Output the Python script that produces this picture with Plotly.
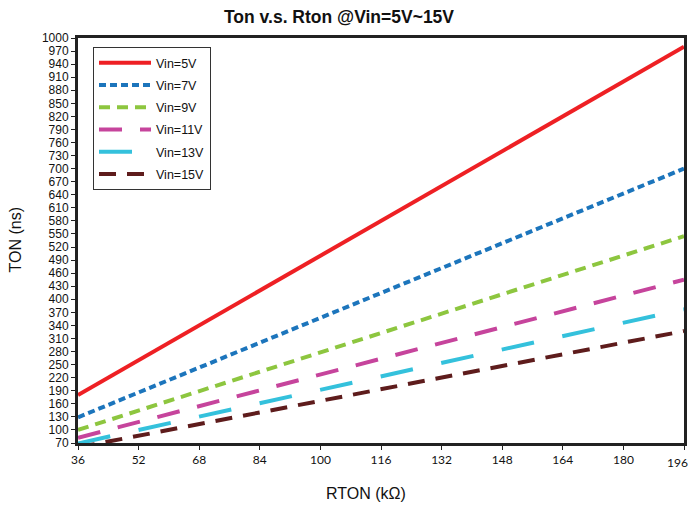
import plotly.graph_objects as go

rton = [36, 196]
series_names = ["Vin=5V", "Vin=7V", "Vin=9V", "Vin=11V", "Vin=13V", "Vin=15V"]
ton_5v = [180, 980]
ton_7v = [129, 700]
ton_9v = [100, 545]
ton_11v = [82, 445]
ton_13v = [69, 377]
ton_15v = [60, 327]
x_ticks = [36, 52, 68, 84, 100, 116, 132, 148, 164, 180, 196]
y_ticks = list(range(70, 1001, 30))

series = [ton_5v, ton_7v, ton_9v, ton_11v, ton_13v, ton_15v]
colors = ["#ee2024", "#1c75bc", "#8dc63f", "#c6449c", "#34c1dc", "#5e1c1c"]
dashes = ["solid", "7px,4px", "11px,7px", "23px,18px", "33px,29px", "17px,11px"]

fig = go.Figure()
for name, ys, c, d in zip(series_names, series, colors, dashes):
    fig.add_trace(go.Scatter(x=rton, y=ys, mode="lines", name=name, legendgroup=name,
                             line=dict(color=c, width=4, dash=d)))

fig.update_layout(
    width=689, height=506,
    margin=dict(l=78, r=5, t=38, b=63, autoexpand=False),
    paper_bgcolor="white", plot_bgcolor="white",
    title=dict(text="<b>Ton v.s. Rton @Vin=5V~15V</b>", x=339/689, xanchor="center",
               xref="container", y=1 - 17/506, yref="container", yanchor="middle",
               font=dict(family="Liberation Sans, Arial", size=17.5, color="#111")),
    showlegend=True,
    legend=dict(x=(93 - 78) / 606, y=1 - (47 - 38) / 405, xanchor="left", yanchor="top",
                bordercolor="#333", borderwidth=1, bgcolor="white",
                font=dict(family="Liberation Sans, Arial", size=12.5, color="#111"),
                itemwidth=52, tracegroupgap=3),
    annotations=[
        dict(text="TON (ns)", x=(15 - 78) / 606, xref="paper", y=0.5, yref="paper",
             textangle=-90, showarrow=False, xanchor="center", yanchor="middle",
             font=dict(family="Liberation Sans, Arial", size=16, color="#111")),
        dict(text="RTON (kΩ)", x=(366 - 78) / 606, xref="paper", y=(443 - 493) / 405,
             yref="paper", showarrow=False, xanchor="center", yanchor="middle",
             font=dict(family="Liberation Sans, Arial", size=16, color="#111")),
        dict(text="196", x=(689 - 78) / 606, xref="paper", y=0, yref="paper", yshift=-19,
             showarrow=False, xanchor="right", yanchor="middle", borderpad=0,
             font=dict(family="Lato, Open Sans", size=12, color="#111")),
    ],
)

fig.update_xaxes(
    range=[36, 196], tickvals=x_ticks, ticktext=[str(v) for v in x_ticks],
    showgrid=False, zeroline=False, automargin=False,
    showline=True, linecolor="#222", linewidth=3, mirror=True,
    ticks="outside", ticklen=4, tickcolor="#222", tickwidth=1,
    tickfont=dict(family="Lato, Open Sans", size=12, color="#111"),
)
fig.update_yaxes(
    range=[70, 1000], tickvals=y_ticks, ticktext=[str(v) for v in y_ticks],
    showgrid=False, zeroline=False, automargin=False,
    showline=True, linecolor="#222", linewidth=3, mirror=True,
    ticks="outside", ticklen=4, tickcolor="#222", tickwidth=1,
    tickfont=dict(family="Liberation Sans, Arial", size=12, color="#111"),
)
fig.write_html("out.html", config={"displayModeBar": False},
               post_script="document.body.style.margin='0';document.body.style.overflow='hidden';")
